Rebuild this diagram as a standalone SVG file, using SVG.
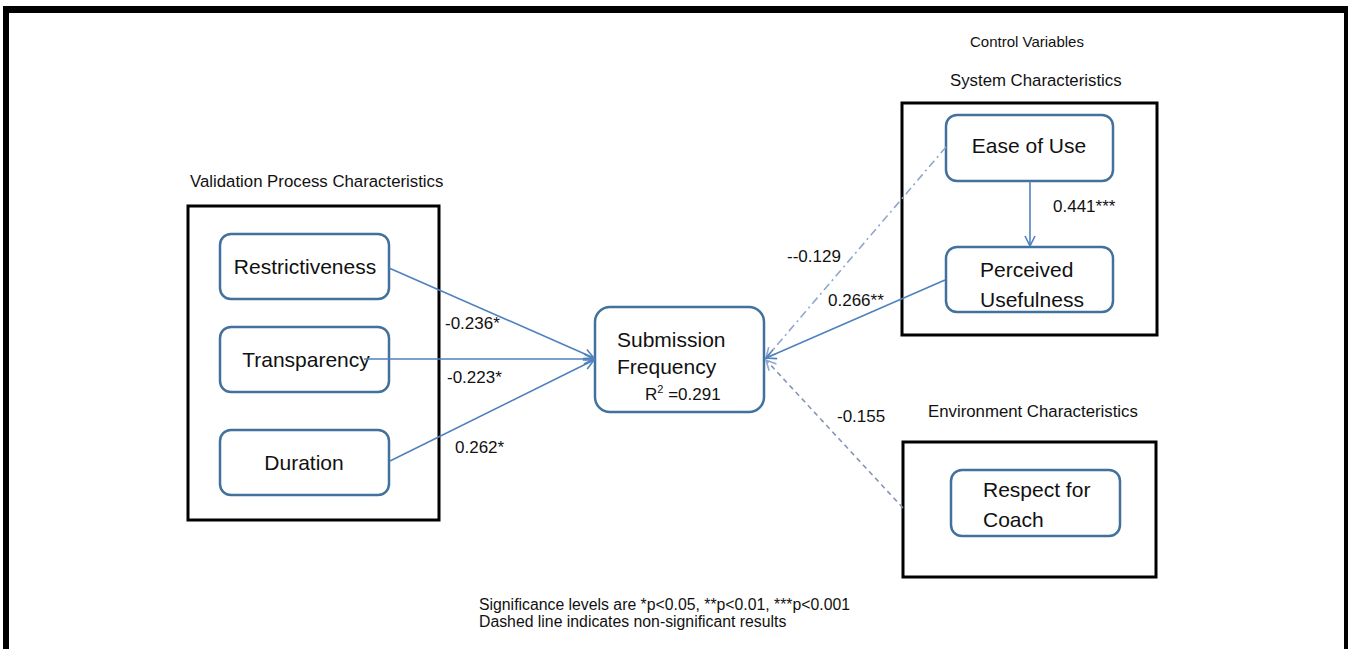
<svg xmlns="http://www.w3.org/2000/svg" width="1348" height="649" viewBox="0 0 1348 649">
<defs>
<style>
.frame{fill:#000}
.grp{fill:none;stroke:#000;stroke-width:3}
.node{fill:#fff;stroke:#41719C;stroke-width:2.5}
.nt{font-family:"Liberation Sans",Arial,sans-serif;font-size:21px;fill:#111}
.gt{font-family:"Liberation Sans",Arial,sans-serif;font-size:16.8px;fill:#111}
.st{font-family:"Liberation Sans",Arial,sans-serif;font-size:15px;fill:#111}
.nb{font-family:"Liberation Sans",Arial,sans-serif;font-size:15.8px;fill:#111}
.el{font-family:"Liberation Sans",Arial,sans-serif;font-size:17px;fill:#111}
.c{fill:none;stroke:#4F81BD;stroke-width:1.6}
.cdd{fill:none;stroke:#8FA8CC;stroke-width:1.6;stroke-dasharray:8 4 2 4}
.cd{fill:none;stroke:#8496B8;stroke-width:1.6;stroke-dasharray:5 4}
</style>
<marker id="ah" viewBox="0 0 12 12" refX="11" refY="6" markerWidth="12" markerHeight="12" markerUnits="userSpaceOnUse" orient="auto">
<path d="M1,1 L11,6 L1,11" fill="none" stroke="#4F81BD" stroke-width="1.6"/>
</marker>
<marker id="ahl" viewBox="0 0 12 12" refX="11" refY="6" markerWidth="12" markerHeight="12" markerUnits="userSpaceOnUse" orient="auto">
<path d="M1,1 L11,6 L1,11" fill="none" stroke="#8FA8CC" stroke-width="1.6"/>
</marker>
</defs>
<rect width="1348" height="649" fill="#fff"/>
<g id="frame">
<rect class="frame" x="3" y="6" width="1345" height="7"/>
<rect class="frame" x="3" y="6" width="6" height="643"/>
<rect class="frame" x="1344" y="6" width="4" height="643"/>
</g>
<g id="group-validation">
<text class="gt" x="190" y="187">Validation Process Characteristics</text>
<rect class="grp" x="188" y="206" width="251" height="314"/>
</g>
<g id="group-control">
<text class="st" x="970" y="47">Control Variables</text>
</g>
<g id="group-system">
<text class="gt" x="950" y="86">System Characteristics</text>
<rect class="grp" x="902" y="103" width="255" height="232"/>
</g>
<g id="group-environment">
<text class="gt" x="928" y="417">Environment Characteristics</text>
<rect class="grp" x="903" y="442" width="253" height="135"/>
</g>
<g id="node-restrictiveness">
<rect class="node" x="220" y="234" width="169" height="65" rx="11"/>
<text class="nt" x="305" y="274" text-anchor="middle">Restrictiveness</text>
</g>
<g id="node-transparency">
<rect class="node" x="220" y="327" width="169" height="65" rx="11"/>
<text class="nt" x="306" y="367" text-anchor="middle">Transparency</text>
</g>
<g id="node-duration">
<rect class="node" x="220" y="430" width="169" height="65" rx="11"/>
<text class="nt" x="304" y="470" text-anchor="middle">Duration</text>
</g>
<g id="node-submission">
<rect class="node" x="595" y="307" width="169" height="105" rx="15"/>
<text class="nt" x="617" y="347">Submission</text>
<text class="nt" x="617" y="374">Frequency</text>
<text class="el" x="645" y="400" font-size="16">R<tspan font-size="11" dy="-7">2</tspan><tspan dy="7"> =0.291</tspan></text>
</g>
<g id="node-ease">
<rect class="node" x="946" y="115" width="167" height="66" rx="11"/>
<text class="nt" x="1029" y="153" text-anchor="middle">Ease of Use</text>
</g>
<g id="node-usefulness">
<rect class="node" x="946" y="247" width="167" height="65" rx="11"/>
<text class="nt" x="980" y="277">Perceived</text>
<text class="nt" x="980" y="307">Usefulness</text>
</g>
<g id="node-respect">
<rect class="node" x="951" y="470" width="169" height="66" rx="11"/>
<text class="nt" x="983" y="497">Respect for</text>
<text class="nt" x="983" y="527">Coach</text>
</g>
<g id="connectors">
<line class="c" x1="389" y1="268" x2="594" y2="358" marker-end="url(#ah)"/>
<line class="c" x1="364" y1="359" x2="594" y2="359" marker-end="url(#ah)"/>
<line class="c" x1="390" y1="461" x2="594" y2="360" marker-end="url(#ah)"/>
<line class="cdd" x1="946" y1="147" x2="766" y2="358" marker-end="url(#ahl)"/>
<line class="c" x1="945" y1="280" x2="766" y2="358" marker-end="url(#ah)"/>
<line class="cd" x1="903" y1="508" x2="766" y2="360" marker-end="url(#ahl)"/>
<line class="c" x1="1030" y1="181" x2="1030" y2="246" marker-end="url(#ah)"/>
</g>
<g id="edge-labels">
<text class="el" x="445" y="329">-0.236*</text>
<text class="el" x="447" y="383">-0.223*</text>
<text class="el" x="455" y="453">0.262*</text>
<text class="el" x="787" y="262">--0.129</text>
<text class="el" x="828" y="306">0.266**</text>
<text class="el" x="1053" y="212">0.441***</text>
<text class="el" x="837" y="422">-0.155</text>
</g>
<g id="note">
<text class="nb" x="479" y="610">Significance levels are *p&lt;0.05, **p&lt;0.01, ***p&lt;0.001</text>
<text class="nb" x="479" y="627">Dashed line indicates non-significant results</text>
</g>
</svg>
